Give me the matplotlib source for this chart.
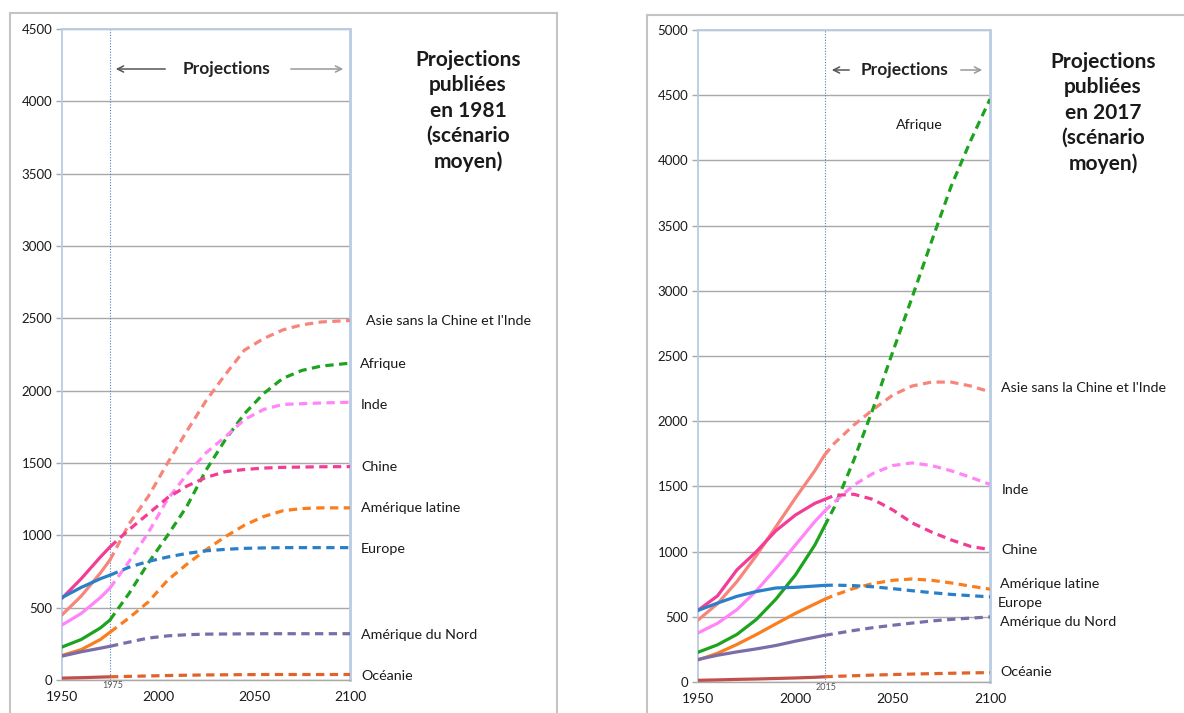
import matplotlib
matplotlib.use("Agg")
import matplotlib.pyplot as plt
from matplotlib.lines import Line2D
from matplotlib.patches import FancyArrowPatch

plt.rcParams['font.family'] = ['Lato', 'DejaVu Sans']

# ---------------- DATA ----------------
regions = ["Asie sans la Chine et l'Inde", "Afrique", "Inde", "Chine",
           "Amérique latine", "Europe", "Amérique du Nord", "Océanie"]

# Projections published in 1981 (medium scenario), millions
years_1981 = [1950, 1960, 1970, 1975, 1985, 1995, 2005, 2015, 2025, 2035,
              2045, 2055, 2065, 2075, 2085, 2100]
split_1981 = 1975
asie_1981 = [450, 580, 740, 830, 1080, 1270, 1500, 1720, 1930, 2110, 2280, 2360, 2420, 2455, 2475, 2485]
afrique_1981 = [228, 280, 360, 415, 600, 810, 1000, 1200, 1450, 1660, 1840, 1980, 2085, 2140, 2170, 2190]
inde_1981 = [380, 460, 570, 636, 820, 1020, 1250, 1420, 1570, 1680, 1800, 1870, 1905, 1910, 1915, 1920]
chine_1981 = [565, 700, 850, 920, 1040, 1150, 1260, 1340, 1400, 1440, 1455, 1465, 1470, 1472, 1474, 1475]
amlat_1981 = [170, 210, 280, 330, 430, 540, 690, 800, 900, 990, 1070, 1130, 1170, 1185, 1190, 1190]
europe_1981 = [570, 640, 700, 725, 780, 820, 850, 875, 893, 903, 910, 913, 915, 915, 915, 915]
amnord_1981 = [165, 195, 220, 233, 262, 290, 305, 313, 317, 318, 319, 320, 320, 320, 320, 320]
oceanie_1981 = [13, 16, 20, 22, 25, 28, 31, 33, 35, 36, 37, 38, 38, 38, 38, 38]

# Projections published in 2017 (medium scenario), millions
years_2017 = [1950, 1960, 1970, 1980, 1990, 2000, 2010, 2015, 2020, 2030,
              2040, 2050, 2060, 2070, 2080, 2090, 2100]
split_2017 = 2015
asie_2017 = [475, 600, 770, 970, 1190, 1410, 1620, 1740, 1830, 1970, 2090, 2200, 2270, 2300, 2300, 2270, 2225]
afrique_2017 = [228, 285, 365, 480, 635, 820, 1050, 1195, 1340, 1700, 2100, 2530, 2950, 3380, 3800, 4150, 4470]
inde_2017 = [376, 450, 555, 700, 870, 1050, 1230, 1310, 1380, 1510, 1600, 1660, 1680, 1660, 1620, 1570, 1515]
chine_2017 = [550, 660, 860, 1000, 1160, 1280, 1370, 1400, 1430, 1440, 1400, 1320, 1220, 1150, 1090, 1040, 1015]
amlat_2017 = [169, 220, 288, 364, 446, 526, 598, 634, 665, 718, 755, 780, 790, 780, 760, 735, 712]
europe_2017 = [549, 605, 657, 694, 721, 726, 736, 741, 743, 739, 730, 716, 700, 685, 672, 662, 653]
amnord_2017 = [173, 205, 231, 254, 280, 313, 343, 358, 370, 395, 417, 435, 452, 468, 480, 490, 499]
oceanie_2017 = [13, 16, 20, 23, 27, 31, 36, 40, 43, 48, 53, 57, 61, 64, 67, 70, 72]

x_ticks = [1950, 2000, 2050, 2100]
y_ticks_1981 = list(range(0, 4501, 500))
y_ticks_2017 = list(range(0, 5001, 500))

title_1981 = "Projections\npubliées\nen 1981\n(scénario\nmoyen)"
title_2017 = "Projections\npubliées\nen 2017\n(scénario\nmoyen)"

# ---------------- STYLE ----------------
colors = {
    "Asie sans la Chine et l'Inde": "#F7857C",
    "Afrique": "#1EA31E",
    "Inde": "#FF85F8",
    "Chine": "#F23C96",
    "Amérique latine": "#FA7D1E",
    "Europe": "#2A7FC9",
    "Amérique du Nord": "#7B6DAA",
    "Océanie": "#E2622B",
}
hist_colors = dict(colors)
hist_colors["Océanie"] = "#C0504D"

TXT = '#1A1A1A'
W, H = 1184, 713
fig = plt.figure(figsize=(W / 100, H / 100), dpi=100)


def fx(px):
    return px / W


def fy(py):
    return 1 - py / H


def make_axes(left, right, top, bottom):
    return fig.add_axes([fx(left), fy(bottom), fx(right) - fx(left), (bottom - top) / H])


def draw_panel(ax, years, split, series, ymax, yticks):
    k = years.index(split)
    for name, vals in zip(regions, series):
        c = colors[name]
        ax.plot(years[:k + 1], vals[:k + 1], color=hist_colors[name], lw=2.3,
                solid_capstyle='round', zorder=3)
        ax.plot(years[k:], vals[k:], color=c, lw=2.3, dashes=(2.6, 1.7), zorder=3)
    ax.set_xlim(1950, 2100)
    ax.set_ylim(0, ymax)
    ax.set_xticks(x_ticks)
    ax.set_yticks(yticks)
    ax.set_yticklabels([str(v) for v in yticks])
    ax.grid(axis='y', color='#A8A8A8', lw=1.0, zorder=0)
    ax.set_axisbelow(True)
    ax.tick_params(axis='y', length=4, width=1, color='#A8A8A8', pad=3,
                   labelsize=9.5, labelcolor=TXT)
    ax.tick_params(axis='x', length=0, pad=8, labelsize=10, labelcolor=TXT)
    for s in ['left', 'right', 'top']:
        ax.spines[s].set_color('#B8CCE4')
        ax.spines[s].set_linewidth(1.3)
    ax.spines['right'].set_linewidth(2.0)
    ax.spines['bottom'].set_color('#A8A8A8')
    ax.spines['bottom'].set_linewidth(1.0)
    ax.axvline(split, color='#4F81BD', lw=0.8, ls=(0, (1, 1.5)), zorder=2)
    ax.set_facecolor('white')


# Left panel (1981)
ax1 = make_axes(62, 350, 29, 680)
draw_panel(ax1, years_1981, split_1981,
           [asie_1981, afrique_1981, inde_1981, chine_1981, amlat_1981,
            europe_1981, amnord_1981, oceanie_1981], 4500, y_ticks_1981)

# Right panel (2017)
ax2 = make_axes(698, 990, 30, 682)
draw_panel(ax2, years_2017, split_2017,
           [asie_2017, afrique_2017, inde_2017, chine_2017, amlat_2017,
            europe_2017, amnord_2017, oceanie_2017], 5000, y_ticks_2017)

# Panel borders
border = '#C4C4C4'
for (x0, y0, x1, y1) in [(10, 13, 10, H), (10, 13, 557, 13), (557, 13, 557, H),
                         (647, 15, 647, H), (647, 15, W, 15)]:
    fig.add_artist(Line2D([fx(x0), fx(x1)], [fy(y0), fy(y1)], color=border, lw=1.5))

# Titles
fig.text(fx(468), fy(111), title_1981, ha='center', va='center', fontsize=15,
         fontweight='bold', linespacing=1.33, color=TXT)
fig.text(fx(1103), fy(113), title_2017, ha='center', va='center', fontsize=15,
         fontweight='bold', linespacing=1.33, color=TXT)


# "Projections" arrows
def proj_header(xl_a, xl_b, xtext, xr_a, xr_b, y):
    fig.text(fx(xtext), fy(y), "Projections", ha='center', va='center',
             fontsize=12.5, fontweight='bold', color='#222222')
    fig.add_artist(FancyArrowPatch(
        (fx(xl_b), fy(y)), (fx(xl_a), fy(y)), transform=fig.transFigure,
        arrowstyle='->', mutation_scale=11, color='#555555', lw=1.1))
    fig.add_artist(FancyArrowPatch(
        (fx(xr_a), fy(y)), (fx(xr_b), fy(y)), transform=fig.transFigure,
        arrowstyle='->', mutation_scale=11, color='#999999', lw=1.1))


proj_header(113, 168, 226, 288, 346, 69)
proj_header(829, 852, 904, 958, 985, 70)

# Split year small labels
fig.text(fx(113), fy(686), str(split_1981), ha='center', va='center',
         fontsize=6.5, color='#555555')
fig.text(fx(826), fy(688), str(split_2017), ha='center', va='center',
         fontsize=6.5, color='#555555')

# Series labels
left_pos = {"Asie sans la Chine et l'Inde": (366, 321), "Afrique": (360, 364),
            "Inde": (361, 405), "Chine": (361, 467), "Amérique latine": (361, 508),
            "Europe": (361, 549), "Amérique du Nord": (361, 635), "Océanie": (361, 676)}
right_pos = {"Asie sans la Chine et l'Inde": (1001, 388), "Inde": (1002, 490),
             "Chine": (1001, 550), "Amérique latine": (1000, 584), "Europe": (998, 603),
             "Amérique du Nord": (1000, 622), "Océanie": (1000, 672)}
for name, (px, py) in left_pos.items():
    fig.text(fx(px), fy(py), name, ha='left', va='center', fontsize=10.3, color=TXT)
for name, (px, py) in right_pos.items():
    fig.text(fx(px), fy(py), name, ha='left', va='center', fontsize=10.3, color=TXT)
fig.text(fx(919), fy(125), "Afrique", ha='center', va='center', fontsize=10.3, color=TXT)

fig.savefig("out.png", dpi=100, facecolor='white')
